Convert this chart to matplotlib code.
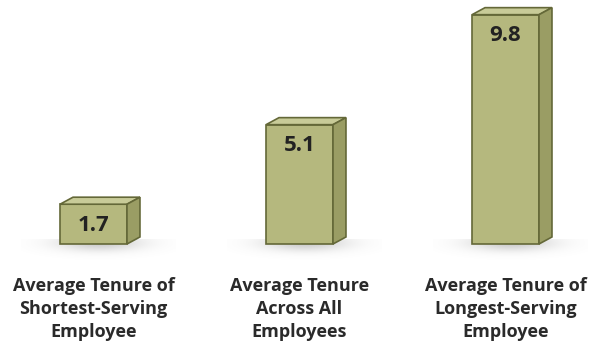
import numpy as np
import matplotlib.pyplot as plt
from matplotlib.patches import Polygon

# tenure figures (years)
categories = ["Average Tenure of\nShortest-Serving\nEmployee",
              "Average Tenure\nAcross All\nEmployees",
              "Average Tenure of\nLongest-Serving\nEmployee"]
values = [1.7, 5.1, 9.8]
value_labels = ["1.7", "5.1", "9.8"]

front_col = "#b5b87e"
top_col = "#c8cb98"
side_col = "#9a9d64"
edge_col = "#646838"

plt.rcParams['font.family'] = ['Open Sans', 'DejaVu Sans']

fig = plt.figure(figsize=(6.11, 3.48), dpi=100)
ax = fig.add_axes([0, 0, 1, 1])
ax.set_xlim(-0.4539, 2.512)
ax.set_ylim(-4.444, 10.427)
ax.axis("off")

w = 0.325      # bar width
dx = 0.063     # depth offset x
dy = 0.30      # depth offset y

# soft shadow under each bar
def draw_shadow(xc):
    xs = np.linspace(xc - 0.35, xc + 0.40, 120)
    ys = np.linspace(-0.9, 0.2, 50)
    X, Y = np.meshgrid(xs, ys)
    a = np.exp(-((X - xc - 0.03) / 0.2) ** 2) * np.exp(-((Y - 0.05) / 0.35) ** 2)
    img = np.zeros(X.shape + (4,))
    img[..., :3] = 0.5
    img[..., 3] = 0.4 * a
    ax.imshow(img, extent=(xs[0], xs[-1], ys[0], ys[-1]), origin="lower",
              aspect="auto", zorder=1, interpolation="bilinear")

for i, v in enumerate(values):
    x0, x1 = i - w / 2, i + w / 2
    draw_shadow(i)
    # front face
    ax.add_patch(Polygon([(x0, 0), (x1, 0), (x1, v), (x0, v)], closed=True,
                         fc=front_col, ec=edge_col, lw=1.2, zorder=3))
    # top face
    ax.add_patch(Polygon([(x0, v), (x1, v), (x1 + dx, v + dy), (x0 + dx, v + dy)],
                         closed=True, fc=top_col, ec=edge_col, lw=1.2, zorder=3))
    # side face
    ax.add_patch(Polygon([(x1, 0), (x1 + dx, dy), (x1 + dx, v + dy), (x1, v)],
                         closed=True, fc=side_col, ec=edge_col, lw=1.2, zorder=3))
    ax.text(i, v - 0.9, value_labels[i], ha="center", va="center",
            fontsize=16, fontweight="bold", color="#222222", zorder=4)
    ax.text(i, -2.78, categories[i], ha="center", va="center", fontsize=13,
            fontweight="bold", color="#2a2a2a", linespacing=1.38)

fig.savefig("out.png", dpi=100, facecolor="white")
